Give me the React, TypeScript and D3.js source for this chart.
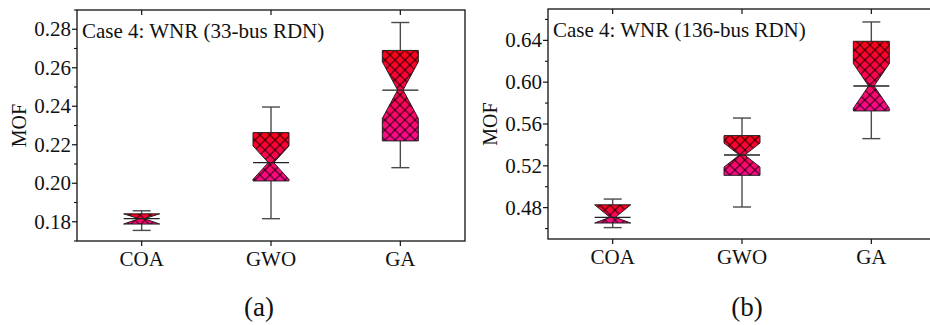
import React from 'react';
import * as d3 from 'd3';

const categories = ['COA', 'GWO', 'GA'];

// panel (a): Case 4, 33-bus RDN
const aWhiskerLow = [0.1755, 0.1816, 0.2081];
const aQ1 = [0.1788, 0.2012, 0.222];
const aMedian = [0.1816, 0.2107, 0.2484];
const aQ3 = [0.1841, 0.2263, 0.269];
const aWhiskerHigh = [0.1857, 0.2396, 0.2835];
const aNotch = [0.004, 0.0087, 0.0147];
const aTicks = [0.18, 0.2, 0.22, 0.24, 0.26, 0.28];
const aMinor = [0.17, 0.19, 0.21, 0.23, 0.25, 0.27, 0.29];

// panel (b): Case 4, 136-bus RDN
const bWhiskerLow = [0.4609, 0.4806, 0.546];
const bQ1 = [0.4653, 0.5109, 0.5725];
const bMedian = [0.4707, 0.5303, 0.5964];
const bQ3 = [0.4827, 0.5489, 0.6391];
const bWhiskerHigh = [0.4882, 0.5657, 0.6576];
const bNotch = [0.02, 0.0115, 0.0214];
const bTicks = [0.48, 0.52, 0.56, 0.6, 0.64];
const bMinor = [0.46, 0.5, 0.54, 0.58, 0.62, 0.66];

const serif = { fontFamily: "'Liberation Serif', 'Times New Roman', Times, serif" };

type PanelProps = {
  left: number;
  top: number;
  width: number;
  height: number;
  domain: [number, number];
  lo: number[];
  q1: number[];
  med: number[];
  q3: number[];
  hi: number[];
  notch: number[];
  ticks: number[];
  minor: number[];
  title: string;
  tag: string;
  tagX: number;
};

const Panel = (p: PanelProps) => {
  const x = d3.scalePoint<string>().domain(categories).range([p.left, p.left + p.width]).padding(0.5);
  const y = d3.scaleLinear().domain(p.domain).range([p.top + p.height, p.top]);
  const boxW = 36;
  const neck = 2.7;
  const capW = 18;
  const bottom = p.top + p.height;

  const boxes = categories.map((c, i) => {
    const cx = x(c) as number;
    const l = cx - boxW / 2;
    const r = cx + boxW / 2;
    const nTop = Math.min(p.med[i] + p.notch[i], p.q3[i]);
    const nBot = Math.max(p.med[i] - p.notch[i], p.q1[i]);
    const pts: [number, number][] = [
      [l, y(p.q3[i])],
      [r, y(p.q3[i])],
      [r, y(nTop)],
      [cx + neck, y(p.med[i])],
      [r, y(nBot)],
      [r, y(p.q1[i])],
      [l, y(p.q1[i])],
      [l, y(nBot)],
      [cx - neck, y(p.med[i])],
      [l, y(nTop)],
    ];
    const d = d3.line()(pts) + 'Z';
    return { cx, l, r, d, i };
  });

  return (
    <g style={serif}>
      {boxes.map(({ cx, i }) => (
        <g key={'w' + i} stroke="#4a4a4a" strokeWidth={1.4}>
          <line x1={cx} x2={cx} y1={y(p.hi[i])} y2={y(p.q3[i])} />
          <line x1={cx} x2={cx} y1={y(p.q1[i])} y2={y(p.lo[i])} />
          <line x1={cx - capW / 2} x2={cx + capW / 2} y1={y(p.hi[i])} y2={y(p.hi[i])} />
          <line x1={cx - capW / 2} x2={cx + capW / 2} y1={y(p.lo[i])} y2={y(p.lo[i])} />
        </g>
      ))}
      {boxes.map(({ d, i }) => (
        <g key={'b' + i}>
          <path d={d} fill="url(#boxGrad)" />
          <path d={d} fill="url(#hatch)" stroke="#222" strokeWidth={1} strokeLinejoin="miter" />
        </g>
      ))}
      {boxes.map(({ l, r, i }) => (
        <line key={'m' + i} x1={l} x2={r} y1={y(p.med[i])} y2={y(p.med[i])} stroke="#222" strokeWidth={1.4} />
      ))}

      <rect x={p.left} y={p.top} width={p.width} height={p.height} fill="none" stroke="#111" strokeWidth={1.3} />

      {p.ticks.map((t) => (
        <g key={'t' + t}>
          <line x1={p.left - 5} x2={p.left} y1={y(t)} y2={y(t)} stroke="#111" strokeWidth={1.2} />
          <text x={p.left - 6} y={y(t) + 7} textAnchor="end" fontSize={21} fill="#111">
            {t.toFixed(2)}
          </text>
        </g>
      ))}
      {p.minor.map((t) => (
        <line key={'n' + t} x1={p.left - 3} x2={p.left} y1={y(t)} y2={y(t)} stroke="#111" strokeWidth={1.1} />
      ))}
      {categories.map((c) => (
        <g key={'c' + c}>
          <line x1={x(c)} x2={x(c)} y1={bottom} y2={bottom + 5} stroke="#111" strokeWidth={1.2} />
          <line x1={x(c)} x2={x(c)} y1={p.top} y2={p.top + 5} stroke="#111" strokeWidth={1.2} />
          <text x={x(c)} y={bottom + 25} textAnchor="middle" fontSize={21} fill="#111">
            {c}
          </text>
        </g>
      ))}

      <text
        transform={`translate(${p.left - 51},${p.top + p.height / 2}) rotate(-90)`}
        textAnchor="middle"
        fontSize={20}
        fill="#111"
      >
        MOF
      </text>
      <text x={p.left + 5} y={p.top + 28} fontSize={21} fill="#111">
        {p.title}
      </text>
      <text x={p.tagX} y={316} textAnchor="middle" fontSize={27} fill="#111">
        {p.tag}
      </text>
    </g>
  );
};

export default function App() {
  return (
    <svg width={930} height={325} style={{ position: 'absolute', left: 0, top: 0, background: '#fff' }}>
      <defs>
        <linearGradient id="boxGrad" x1="0" y1="0" x2="0" y2="1">
          <stop offset="0%" stopColor="#ff0018" />
          <stop offset="50%" stopColor="#ff0550" />
          <stop offset="100%" stopColor="#ff0a8e" />
        </linearGradient>
        <pattern id="hatch" patternUnits="userSpaceOnUse" width={7.07} height={7.07} patternTransform="rotate(45)">
          <path d="M0,3.535H7.07M3.535,0V7.07" stroke="#000" strokeWidth={0.9} />
        </pattern>
      </defs>
      <rect width={930} height={325} fill="#fff" />
      <Panel
        left={77}
        top={10}
        width={388}
        height={231}
        domain={[0.17, 0.29]}
        lo={aWhiskerLow}
        q1={aQ1}
        med={aMedian}
        q3={aQ3}
        hi={aWhiskerHigh}
        notch={aNotch}
        ticks={aTicks}
        minor={aMinor}
        title="Case 4: WNR (33-bus RDN)"
        tag="(a)"
        tagX={259}
      />
      <Panel
        left={548}
        top={9}
        width={388}
        height={230}
        domain={[0.45, 0.67]}
        lo={bWhiskerLow}
        q1={bQ1}
        med={bMedian}
        q3={bQ3}
        hi={bWhiskerHigh}
        notch={bNotch}
        ticks={bTicks}
        minor={bMinor}
        title="Case 4: WNR (136-bus RDN)"
        tag="(b)"
        tagX={747}
      />
    </svg>
  );
}
